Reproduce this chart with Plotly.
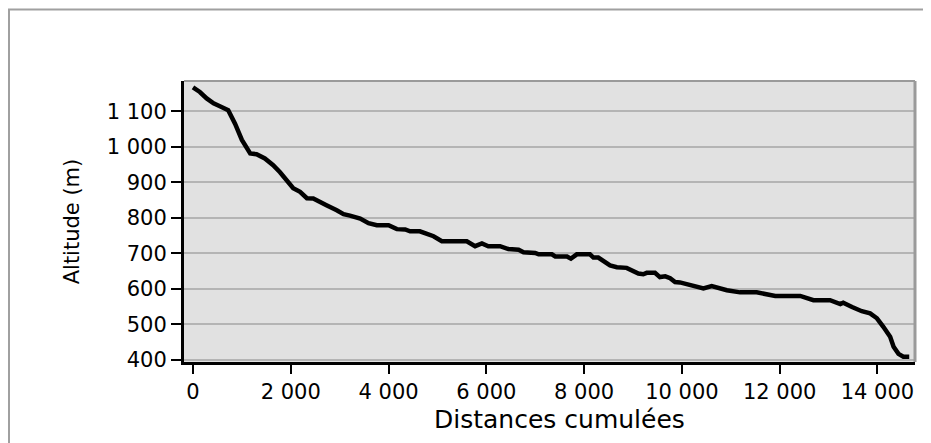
# Import libraries
import plotly.graph_objects as go

# Profile data
distance = [0, 140, 280, 420, 550, 720, 860, 1000, 1170, 1300,
            1470, 1640, 1780, 1920, 2050, 2190, 2330, 2460, 2600, 2730,
            2940, 3080, 3210, 3420, 3590, 3760, 4000, 4170, 4340, 4440,
            4640, 4780, 4920, 5090, 5600, 5770, 5910, 6040, 6280, 6450,
            6660, 6760, 7000, 7070, 7340, 7410, 7650, 7730, 7850, 8120,
            8190, 8290, 8530, 8670, 8870, 9110, 9210, 9280, 9450, 9550,
            9660, 9760, 9860, 9960, 10170, 10440, 10610, 10920, 11190, 11530,
            11910, 12420, 12690, 13030, 13240, 13300, 13480, 13680, 13850, 13990,
            14120, 14260, 14330, 14430, 14530, 14650]
altitude = [1167, 1154, 1136, 1122, 1114, 1103, 1065, 1019, 981, 979,
            967, 948, 928, 906, 883, 873, 855, 854, 843, 835,
            821, 810, 806, 798, 785, 779, 779, 768, 767, 762,
            762, 754, 748, 734, 734, 720, 728, 720, 720, 712,
            710, 703, 701, 697, 697, 691, 691, 685, 697, 697,
            688, 688, 666, 661, 659, 643, 641, 645, 645, 633,
            635, 630, 619, 618, 612, 601, 608, 596, 590, 590,
            580, 580, 568, 568, 557, 561, 549, 537, 531, 517,
            493, 465, 437, 417, 409, 409]

# Axis ticks
x_ticks = [0, 2000, 4000, 6000, 8000, 10000, 12000, 14000]
y_ticks = [400, 500, 600, 700, 800, 900, 1000, 1100]

font_name = "DejaVu Sans"

fig = go.Figure()
fig.add_trace(go.Scatter(
    x=distance,
    y=altitude,
    mode="lines",
    line=dict(color="black", width=4.5),
    showlegend=False,
    hoverinfo="skip",
))

# Layout: grey plot area, black left/bottom axes, space as thousands separator
# (page body adds an 8px offset, so the figure is 8px smaller than the window)
fig.update_layout(
    width=923,
    height=435,
    margin=dict(l=176, r=16, t=73, b=81),
    paper_bgcolor="white",
    plot_bgcolor="#e1e1e1",
    separators=", ",
    font=dict(family=font_name, color="black", size=21),
    xaxis=dict(
        range=[-184, 14768],
        tickvals=x_ticks,
        tickformat=",d",
        ticks="outside",
        ticklen=9,
        tickwidth=2,
        tickcolor="black",
        showline=True,
        linecolor="black",
        linewidth=3,
        showgrid=False,
        zeroline=False,
        tickfont=dict(size=21),
    ),
    yaxis=dict(
        range=[394, 1185],
        tickvals=y_ticks,
        tickformat=",d",
        ticks="outside",
        ticklen=10,
        tickwidth=2,
        tickcolor="black",
        showline=True,
        linecolor="black",
        linewidth=3,
        showgrid=True,
        gridcolor="#b4b4b4",
        gridwidth=1.5,
        zeroline=False,
        tickfont=dict(size=21),
        title=dict(text="Altitude (m)", font=dict(size=21), standoff=22),
    ),
    # x title sits a little right of the plot centre in the original
    annotations=[
        dict(text="Distances cumulées", xref="paper", yref="paper",
             x=0.514, y=-0.206, xanchor="center", yanchor="middle",
             showarrow=False, font=dict(size=25)),
    ],
    shapes=[
        # grey top and right border of the plot area
        dict(type="line", xref="paper", yref="paper", x0=0, x1=1, y0=1, y1=1,
             line=dict(color="#9a9a9a", width=2)),
        dict(type="line", xref="paper", yref="paper", x0=1, x1=1, y0=0, y1=1,
             line=dict(color="#9a9a9a", width=3)),
        # outer frame around the whole chart
        dict(type="rect", xref="paper", yref="paper",
             x0=-0.2394, x1=1.05, y0=-0.5, y1=1.2544,
             line=dict(color="#a0a0a0", width=2)),
    ],
)

# Save as HTML
fig.write_html("out.html")
